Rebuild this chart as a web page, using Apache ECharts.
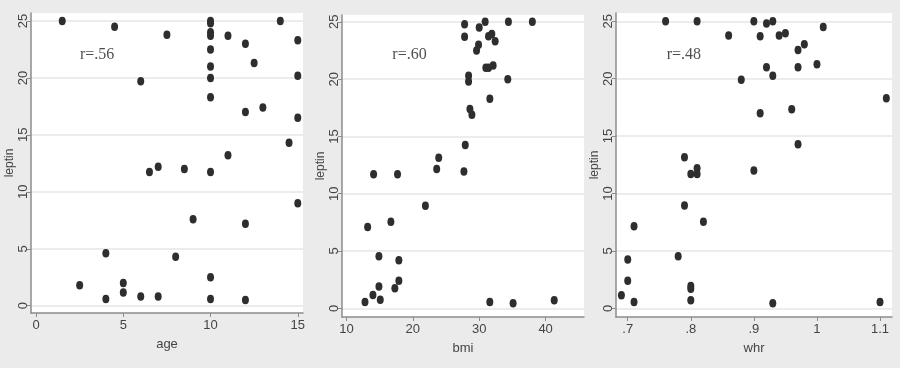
<!DOCTYPE html>
<html><head><meta charset="utf-8">
<script src="https://cdn.jsdelivr.net/npm/echarts@6/dist/echarts.min.js"></script>
<style>html,body{margin:0;padding:0;background:#ebebeb;}#c{width:900px;height:368px;}</style>
</head><body><div id="c"></div>
<script>
// Panel 1: age vs leptin
const ageX = [1.5,4.5,7.5,10,10,10,10,10,10,10,10,10,10,10,11,12,14,15,12.5,15,6,13,12,15,14.5,11,7,6.5,8.5,15,9,12,4,8,2.5,5,5,6,7,4,12];
const ageY = [25,24.5,23.8,25,24.8,24,23.7,22.5,21,20,18.3,11.75,2.5,0.6,23.7,23,25,23.3,21.3,20.2,19.7,17.4,17,16.5,14.3,13.2,12.2,11.75,12,9,7.6,7.2,4.6,4.3,1.8,2,1.15,0.8,0.8,0.6,0.5];
// Panel 2: bmi vs leptin
const bmiX = [27.8,27.8,30,30.9,34.4,38,31.4,31.9,32.4,29.9,29.6,31,31.4,32.1,28.4,28.4,34.3,31.6,28.6,28.9,27.9,23.9,23.6,27.7,14.1,17.7,21.9,16.7,13.2,14.9,17.9,17.9,14.9,17.3,14,15.1,12.8,31.6,35.1,41.3];
const bmiY = [24.8,23.7,24.5,25,25,25,23.75,23.95,23.3,23,22.5,21,21,21.2,20.3,19.8,20,18.3,17.4,16.9,14.25,13.15,12.15,11.95,11.7,11.7,8.95,7.55,7.1,4.55,4.2,2.4,1.9,1.75,1.15,0.75,0.55,0.55,0.45,0.7];
// Panel 3: whr vs leptin
const whrX = [0.76,0.81,0.90,0.92,0.93,1.01,0.86,0.91,0.94,0.95,0.98,0.97,1.00,0.92,0.97,0.93,0.88,1.11,0.96,0.91,0.97,0.79,0.81,0.80,0.81,0.90,0.79,0.82,0.71,0.78,0.70,0.70,0.80,0.80,0.69,0.80,0.71,0.93,1.10];
const whrY = [25,25,25,24.8,25,24.5,23.75,23.7,23.75,23.95,23,22.5,21.25,21,21,20.25,19.9,18.3,17.35,17,14.3,13.15,12.2,11.7,11.7,12,8.95,7.55,7.15,4.55,4.25,2.4,1.95,1.7,1.15,0.7,0.55,0.45,0.55];

const yTicks = [0,5,10,15,20,25];
const ageTicks = [0,5,10,15];
const bmiTicks = [10,20,30,40];
const whrTicks = [0.7,0.8,0.9,1.0,1.1];
const whrTickLabels = ['.7','.8','.9','1','1.1'];
const xNames = ['age','bmi','whr'];
const yName = 'leptin';
const rLabels = ['r=.56','r=.60','r=.48'];
const rX = [3.5,19.5,0.789];
const rY = [22,22.1,22.1];

const grids = [
  {left:31, right:597, top:13, bottom:55},
  {left:342, right:316, top:15, bottom:51},
  {left:616, right:8, top:13, bottom:51}
];
const xRanges = [[-0.29,15.3],[9.34,45.78],[0.6814,1.119]];
const yRanges = [[-0.64,25.7],[-0.76,25.6],[-0.75,25.72]];
const xTickSets = [ageTicks,bmiTicks,whrTicks];

const axisColor = '#8c8c8c';
const labelColor = '#444';
const gridColor = '#e6e6e6';
const font = '"Liberation Sans", Arial, sans-serif';

const xAxes = [0,1,2].map(i => ({
  type:'value', gridIndex:i, min:xRanges[i][0], max:xRanges[i][1],
  name:xNames[i], nameLocation:'middle', nameGap:25,
  nameTextStyle:{color:labelColor, fontSize:13, fontFamily:font},
  axisLine:{show:true, onZero:false, lineStyle:{color:axisColor, width:1.5}},
  axisTick:{show:true, length:4, lineStyle:{color:axisColor}, customValues:xTickSets[i]},
  axisLabel:{show:true, color:labelColor, fontSize:13, fontFamily:font, margin:6, customValues:xTickSets[i],
    showMinLabel:true, showMaxLabel:true,
    formatter: v => i===2 ? whrTickLabels[whrTicks.findIndex(t=>Math.abs(t-v)<1e-6)] : String(v)},
  splitLine:{show:false}
}));
const yAxes = [0,1,2].map(i => ({
  type:'value', gridIndex:i, min:yRanges[i][0], max:yRanges[i][1],
  name:yName, nameLocation:'middle', nameGap:13, nameRotate:90,
  nameTextStyle:{color:labelColor, fontSize:12, fontFamily:font},
  axisLine:{show:true, onZero:false, lineStyle:{color:axisColor, width:1.5}},
  axisTick:{show:true, length:4, lineStyle:{color:axisColor}, customValues:yTicks},
  axisLabel:{show:true, color:labelColor, fontSize:13, fontFamily:font, rotate:90, margin:1, customValues:yTicks},
  splitLine:{show:true, lineStyle:{color:gridColor, width:1.5}}
}));

const dataSets = [[ageX,ageY],[bmiX,bmiY],[whrX,whrY]];
const series = [];
dataSets.forEach((d,i) => {
  series.push({
    type:'scatter', xAxisIndex:i, yAxisIndex:i,
    data:d[0].map((x,k)=>[x,d[1][k]]),
    symbol:'circle', symbolSize:[7,8.5],
    itemStyle:{color:'#2e2e2e', opacity:1},
    z:3
  });
  series.push({
    type:'scatter', xAxisIndex:i, yAxisIndex:i,
    data:[[rX[i], rY[i]]], symbolSize:0,
    label:{show:true, position:'inside', formatter:rLabels[i], color:'#222',
      fontSize:16, fontFamily:'"Liberation Serif", "Times New Roman", serif'},
    z:4
  });
});

const chart = echarts.init(document.getElementById('c'), null, {renderer:'canvas'});
chart.setOption({
  animation:false,
  backgroundColor:'#ebebeb',
  grid: grids.map(g => Object.assign({show:true, backgroundColor:'#ffffff', borderWidth:0, containLabel:false}, g)),
  xAxis:xAxes, yAxis:yAxes, series:series
});
</script></body></html>
